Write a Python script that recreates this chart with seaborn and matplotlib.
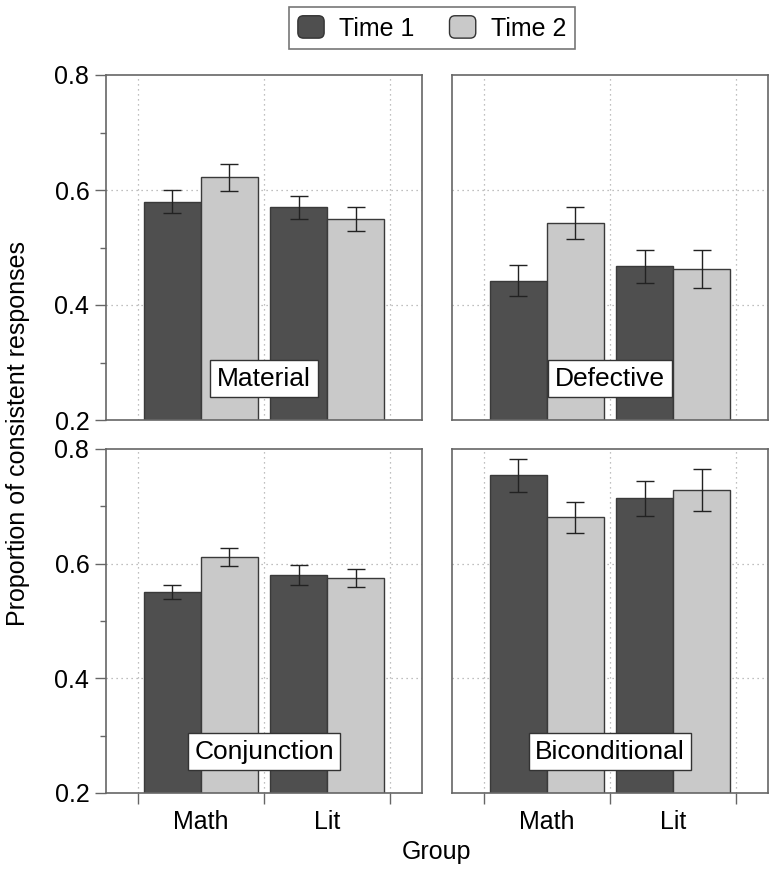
import matplotlib
matplotlib.use("Agg")
import matplotlib.pyplot as plt
from matplotlib.patches import Patch, FancyBboxPatch
from matplotlib.legend_handler import HandlerPatch
import seaborn as sns
import pandas as pd

# Data (mean proportion and standard error)
groups = ["Math", "Lit"]
times = ["Time 1", "Time 2"]
conditions = ["Material", "Defective", "Conjunction", "Biconditional"]

material_t1 = [0.580, 0.570]
material_t2 = [0.622, 0.549]
material_se_t1 = [0.020, 0.020]
material_se_t2 = [0.023, 0.021]

defective_t1 = [0.442, 0.467]
defective_t2 = [0.543, 0.462]
defective_se_t1 = [0.027, 0.028]
defective_se_t2 = [0.028, 0.033]

conjunction_t1 = [0.551, 0.580]
conjunction_t2 = [0.612, 0.575]
conjunction_se_t1 = [0.012, 0.017]
conjunction_se_t2 = [0.016, 0.015]

biconditional_t1 = [0.754, 0.714]
biconditional_t2 = [0.681, 0.728]
biconditional_se_t1 = [0.029, 0.030]
biconditional_se_t2 = [0.027, 0.037]

panel_values = {
    "Material": (material_t1, material_t2, material_se_t1, material_se_t2),
    "Defective": (defective_t1, defective_t2, defective_se_t1, defective_se_t2),
    "Conjunction": (conjunction_t1, conjunction_t2, conjunction_se_t1, conjunction_se_t2),
    "Biconditional": (biconditional_t1, biconditional_t2, biconditional_se_t1, biconditional_se_t2),
}

DARK = "#4f4f4f"
LIGHT = "#c9c9c9"
FRAME = "#666666"
FS = 18

sns.set_style("white")
plt.rcParams["font.family"] = ["Liberation Sans", "DejaVu Sans"]
plt.rcParams["text.color"] = "black"
plt.rcParams["xtick.labelcolor"] = "black"
plt.rcParams["ytick.labelcolor"] = "black"


class RoundBoxHandler(HandlerPatch):
    """Draws legend keys as small rounded squares."""
    def create_artists(self, legend, orig_handle, xdescent, ydescent,
                       width, height, fontsize, trans):
        box = FancyBboxPatch((-xdescent, -ydescent), width, height,
                             boxstyle="round,pad=0,rounding_size=4",
                             facecolor=orig_handle.get_facecolor(),
                             edgecolor="#333333", linewidth=1.0,
                             transform=trans)
        return [box]


fig = plt.figure(figsize=(7.77, 8.73), dpi=100)
W, H = 777, 873

# axes boxes in pixel coordinates: (left, top, right, bottom)
boxes = {
    "Material": (106, 75, 422, 420),
    "Defective": (452, 75, 768, 420),
    "Conjunction": (106, 449, 422, 793),
    "Biconditional": (452, 449, 768, 793),
}

for i, name in enumerate(conditions):
    l, t, r, b = boxes[name]
    ax = fig.add_axes([l / W, 1 - b / H, (r - l) / W, (b - t) / H])

    t1, t2, se1, se2 = panel_values[name]
    df = pd.DataFrame({
        "Group": groups * 2,
        "Time": [times[0]] * 2 + [times[1]] * 2,
        "Mean": t1 + t2,
        "SE": se1 + se2,
    })

    # dotted grid behind the bars
    for gx in [-0.5, 0.5, 1.5]:
        ax.axvline(gx, color="#aaaaaa", lw=0.9, ls=(0, (1, 3)), zorder=0)
    for gy in [0.4, 0.6]:
        ax.axhline(gy, color="#aaaaaa", lw=0.9, ls=(0, (1, 3)), zorder=0)

    sns.barplot(data=df, x="Group", y="Mean", hue="Time", order=groups,
                hue_order=times, palette=[DARK, LIGHT], width=0.9,
                edgecolor="#3a3a3a", linewidth=1.0, errorbar=None,
                legend=False, ax=ax, zorder=2)

    # error bars at the bar centres
    for container, time in zip(ax.containers, times):
        sub = df[df["Time"] == time]
        xs = [p.get_x() + p.get_width() / 2 for p in container.patches]
        ax.errorbar(xs, sub["Mean"].values, yerr=sub["SE"].values, fmt="none",
                    ecolor="#222222", elinewidth=1.0, capsize=6.4,
                    capthick=1.0, zorder=3)

    ax.set_xlim(-0.75, 1.75)
    ax.set_ylim(0.2, 0.8)
    ax.set_xlabel("")
    ax.set_ylabel("")

    for s in ax.spines.values():
        s.set_color(FRAME)
        s.set_linewidth(1.2)

    ax.text(0.5, 0.272, name, ha="center", va="center", fontsize=19,
            zorder=5, color="black",
            bbox=dict(boxstyle="square,pad=0.25", fc="white", ec="#333333", lw=1.0))

    left_col = i % 2 == 0
    bottom_row = i >= 2

    if left_col:
        ax.set_yticks([0.2, 0.4, 0.6, 0.8])
        ax.set_yticklabels(["0.2", "0.4", "0.6", "0.8"])
        ax.set_yticks([0.3, 0.5, 0.7], minor=True)
        ax.tick_params(axis="y", which="major", direction="out", length=8,
                       width=1.0, color=FRAME, labelsize=FS, pad=4, left=True)
        ax.tick_params(axis="y", which="minor", direction="out", length=4.3,
                       width=1.0, color=FRAME, left=True)
    else:
        ax.set_yticks([])

    if bottom_row:
        ax.set_xticks([-0.5, 0.5, 1.5])
        ax.set_xticklabels([])
        ax.set_xticks([0, 1], minor=True)
        ax.set_xticklabels(groups, minor=True)
        ax.tick_params(axis="x", which="major", direction="out", length=8,
                       width=1.0, color=FRAME, bottom=True)
        ax.tick_params(axis="x", which="minor", length=0, labelsize=FS,
                       pad=12, bottom=True)
    else:
        ax.set_xticks([])

fig.text(437 / W, 1 - 852 / H, "Group", ha="center", va="center", fontsize=FS)
fig.text(18 / W, 1 - 434 / H, "Proportion of consistent responses",
         ha="center", va="center", rotation=90, fontsize=FS)

handles = [Patch(facecolor=DARK, label=times[0]),
           Patch(facecolor=LIGHT, label=times[1])]
leg = fig.legend(handles=handles, loc="upper center",
                 bbox_to_anchor=(432 / W, 1 - 7 / H), ncol=2, fontsize=FS,
                 frameon=True, fancybox=False, edgecolor="#555555",
                 handlelength=1.05, handleheight=1.0, handletextpad=0.6,
                 columnspacing=1.4, borderpad=0.35, borderaxespad=0,
                 handler_map={Patch: RoundBoxHandler()})
leg.get_frame().set_linewidth(1.2)

fig.savefig("out.png", dpi=100)
